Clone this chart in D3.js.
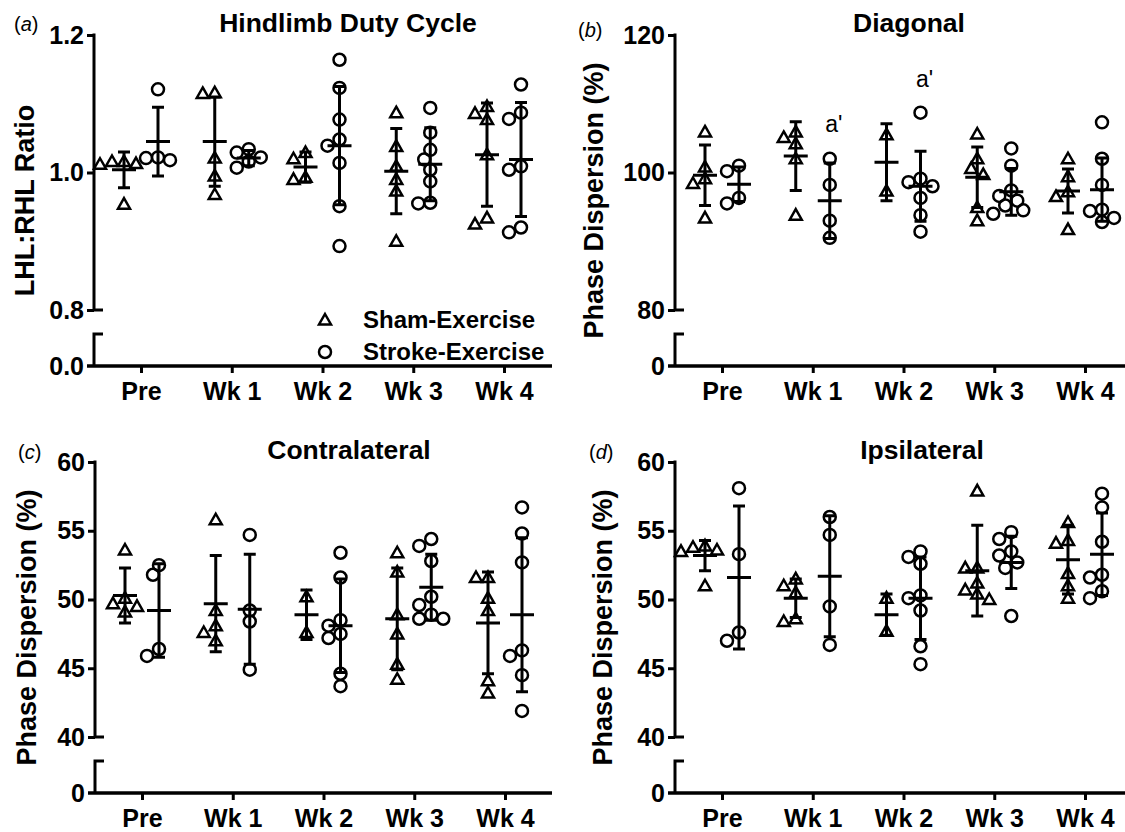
<!DOCTYPE html>
<html>
<head>
<meta charset="utf-8">
<script src="https://cdn.jsdelivr.net/npm/d3@7"></script>
<style>
  body { margin: 0; background: #fff; }
  svg text { font-family: 'Liberation Sans', Arial, sans-serif; fill: #000; }
</style>
</head>
<body>
<svg id="chart" width="1125" height="832"></svg>
<script>
'use strict';

var weeks = ['Pre', 'Wk 1', 'Wk 2', 'Wk 3', 'Wk 4'];

// (a) hindlimb duty cycle, LHL:RHL ratio
var dutySham = [
  [1.016, 1.013, 1.016, 1.012, 0.954],
  [1.115, 1.116, 1.021, 0.995, 0.968],
  [1.029, 1.020, 0.990, 0.993],
  [1.087, 1.038, 1.009, 0.990, 0.973, 0.900],
  [1.096, 1.086, 1.077, 1.026, 0.925, 0.934]
];
var dutyShamMean = [1.004, 1.045, 1.008, 1.002, 1.026];
var dutyShamSD = [0.026, 0.065, 0.022, 0.062, 0.075];
var dutyStroke = [
  [1.121, 1.021, 1.018, 1.022],
  [1.029, 1.034, 1.007, 1.016, 1.022],
  [1.164, 1.123, 1.077, 1.048, 1.039, 1.014, 0.951, 0.893],
  [1.094, 1.058, 1.033, 1.019, 1.004, 0.987, 0.955, 0.956],
  [1.128, 1.078, 1.087, 1.009, 1.004, 0.913, 0.920]
];
var dutyStrokeMean = [1.045, 1.021, 1.039, 1.012, 1.019];
var dutyStrokeSD = [0.050, 0.011, 0.086, 0.053, 0.083];

// (b) diagonal phase dispersion (%)
var diagSham = [
  [105.9, 100.8, 99.1, 98.4, 93.4],
  [104.2, 105.1, 105.9, 102.0, 93.8],
  [105.5, 97.3],
  [105.6, 102.0, 100.6, 99.7, 94.9, 93.0],
  [102.0, 99.4, 97.2, 96.5, 91.7]
];
var diagShamMean = [99.6, 102.4, 101.5, 99.3, 97.3];
var diagShamSD = [4.4, 5.0, 5.6, 4.4, 3.2];
var diagStroke = [
  [101.0, 100.2, 95.5, 96.3],
  [102.0, 98.2, 93.0, 90.5],
  [108.7, 99.1, 98.6, 98.0, 96.3, 93.8, 91.4],
  [103.5, 101.0, 97.4, 96.6, 95.9, 95.2, 94.5, 94.0],
  [107.3, 102.0, 98.2, 94.6, 94.4, 93.4, 92.8]
];
var diagStrokeMean = [98.3, 95.9, 98.0, 97.2, 97.5];
var diagStrokeSD = [2.5, 5.5, 5.1, 3.4, 4.6];
var diagNotes = [
  {week: 'Wk 1', value: 105.9, text: "a'"},
  {week: 'Wk 2', value: 112.4, text: "a'"}
];

// (c) contralateral phase dispersion (%)
var contraSham = [
  [53.6, 49.7, 49.5, 50.1, 49.1],
  [55.8, 49.2, 48.1, 47.6, 47.0],
  [50.2, 47.6],
  [53.4, 52.0, 48.9, 47.5, 45.3, 44.2],
  [51.6, 51.6, 50.1, 49.2, 44.1, 43.2]
];
var contraShamMean = [50.3, 49.7, 48.9, 48.6, 48.3];
var contraShamSD = [2.0, 3.5, 1.8, 3.7, 3.7];
var contraStroke = [
  [52.5, 51.8, 45.9, 46.4],
  [54.7, 49.2, 48.4, 44.9],
  [53.4, 51.6, 48.5, 48.1, 47.5, 47.2, 44.6, 43.7],
  [54.4, 53.9, 52.8, 50.2, 49.6, 48.9, 48.6, 48.6],
  [56.7, 54.8, 52.7, 46.3, 45.9, 44.5, 41.9]
];
var contraStrokeMean = [49.2, 49.3, 48.1, 50.9, 48.9];
var contraStrokeSD = [3.4, 4.0, 3.4, 2.4, 5.6];

// (d) ipsilateral phase dispersion (%)
var ipsiSham = [
  [53.8, 53.6, 53.9, 53.5, 51.0],
  [51.5, 51.0, 50.5, 48.4, 48.6],
  [50.1, 47.7],
  [57.9, 52.3, 52.3, 51.2, 50.7, 50.4, 50.0],
  [55.6, 54.1, 54.3, 51.9, 51.0, 50.1]
];
var ipsiShamMean = [53.2, 50.1, 48.9, 52.1, 52.9];
var ipsiShamSD = [1.1, 1.4, 1.5, 3.3, 2.5];
var ipsiStroke = [
  [58.1, 53.3, 47.0, 47.6],
  [56.0, 54.7, 49.5, 46.7],
  [53.5, 53.1, 52.6, 50.3, 50.1, 49.2, 46.6, 45.3],
  [54.9, 54.4, 53.5, 53.2, 52.7, 52.3, 48.8],
  [57.7, 56.7, 54.2, 51.8, 51.6, 50.6, 50.1]
];
var ipsiStrokeMean = [51.6, 51.7, 50.1, 52.7, 53.3];
var ipsiStrokeSD = [5.2, 4.4, 3.0, 1.9, 3.0];

var groups = ['Sham-Exercise', 'Stroke-Exercise'];

// layout
var H = 275, GAP = 24, LOW = 32;
var axisY = H + GAP + LOW;

var panels = [
  {tag: 'a', title: 'Hindlimb Duty Cycle', yLabel: 'LHL:RHL Ratio',
   domain: [0.8, 1.2], ticks: [0.8, 1.0, 1.2], fmt: '.1f', zero: '0.0',
   sham: [dutySham, dutyShamMean, dutyShamSD], stroke: [dutyStroke, dutyStrokeMean, dutyStrokeSD],
   left: 94, top: 35, width: 458, titleX: 348, tagX: 14, tagY: 31, labelX: 25, legend: true},
  {tag: 'b', title: 'Diagonal', yLabel: 'Phase Dispersion (%)',
   domain: [80, 120], ticks: [80, 100, 120], fmt: 'd', zero: '0',
   sham: [diagSham, diagShamMean, diagShamSD], stroke: [diagStroke, diagStrokeMean, diagStrokeSD],
   notes: diagNotes,
   left: 675, top: 35, width: 450, titleX: 909, tagX: 578, tagY: 37, labelX: 594},
  {tag: 'c', title: 'Contralateral', yLabel: 'Phase Dispersion (%)',
   domain: [40, 60], ticks: [40, 45, 50, 55, 60], fmt: 'd', zero: '0',
   sham: [contraSham, contraShamMean, contraShamSD], stroke: [contraStroke, contraStrokeMean, contraStrokeSD],
   left: 95, top: 462, width: 457, titleX: 349, tagX: 18, tagY: 459, labelX: 27},
  {tag: 'd', title: 'Ipsilateral', yLabel: 'Phase Dispersion (%)',
   domain: [40, 60], ticks: [40, 45, 50, 55, 60], fmt: 'd', zero: '0',
   sham: [ipsiSham, ipsiShamMean, ipsiShamSD], stroke: [ipsiStroke, ipsiStrokeMean, ipsiStrokeSD],
   left: 675, top: 462, width: 450, titleX: 922, tagX: 589, tagY: 459, labelX: 603}
];

var LW = 3;
var MW = 2.5;
var triangle = 'M0,-6L6,4.5L-6,4.5Z';

var svg = d3.select('#chart');

// spread points sideways when they would sit on top of each other
function spread(values, y, cx) {
  var placed = [];
  var out = new Array(values.length);
  var order = d3.range(values.length).sort(function(i, j) { return values[j] - values[i]; });
  order.forEach(function(i) {
    var py = y(values[i]);
    var dx = 0;
    for (var k = 0; k < 30; k++) {
      dx = (k % 2 ? -1 : 1) * Math.ceil(k / 2) * 6;
      var free = placed.every(function(p) {
        return Math.hypot(p.x - dx, p.y - py) >= 11;
      });
      if (free) break;
    }
    placed.push({x: dx, y: py});
    out[i] = {x: cx + dx, y: py};
  });
  return out;
}

function marker(sel, shape) {
  if (shape === 0) {
    return sel.append('path').attr('d', triangle);
  }
  return sel.append('circle').attr('r', 6);
}

panels.forEach(function(p) {
  var g = svg.append('g')
    .attr('transform', 'translate(' + p.left + ',' + p.top + ')');

  var y = d3.scaleLinear().domain(p.domain).range([H, 0]);
  var x = d3.scalePoint().domain(weeks).range([47, 410]);
  var offset = [-17, 17];

  // y axis, upper segment
  var ya = g.append('g')
    .call(d3.axisLeft(y).tickValues(p.ticks).tickFormat(d3.format(p.fmt))
      .tickSize(7).tickPadding(3));
  ya.select('.domain').remove();
  ya.selectAll('line').attr('stroke', '#000').attr('stroke-width', LW);
  ya.selectAll('text').style('font-size', '25px').style('font-weight', 'bold');

  g.append('path')
    .attr('d', 'M0,' + (-LW / 2) + 'V' + H + 'H9')
    .attr('fill', 'none').attr('stroke', '#000').attr('stroke-width', LW);
  // lower segment below the break
  g.append('path')
    .attr('d', 'M9,' + (H + GAP) + 'H0V' + axisY)
    .attr('fill', 'none').attr('stroke', '#000').attr('stroke-width', LW);
  g.append('text')
    .attr('x', -10).attr('y', axisY).attr('dy', '0.35em')
    .attr('text-anchor', 'end')
    .style('font-size', '25px').style('font-weight', 'bold')
    .text(p.zero);

  // x axis
  g.append('line')
    .attr('x1', -7).attr('x2', p.width)
    .attr('y1', axisY).attr('y2', axisY)
    .attr('stroke', '#000').attr('stroke-width', LW + 0.3);
  var xa = g.append('g')
    .attr('transform', 'translate(0,' + axisY + ')')
    .call(d3.axisBottom(x).tickSize(7).tickPadding(9));
  xa.select('.domain').remove();
  xa.selectAll('line').attr('stroke', '#000').attr('stroke-width', LW);
  xa.selectAll('text').style('font-size', '25px').style('font-weight', 'bold');

  // titles and labels
  g.append('text')
    .attr('x', p.titleX - p.left).attr('y', -3)
    .attr('text-anchor', 'middle')
    .style('font-size', '26.5px').style('font-weight', 'bold')
    .text(p.title);

  svg.append('text')
    .attr('x', p.tagX).attr('y', p.tagY)
    .style('font-size', '20px')
    .html('(<tspan font-style="italic">' + p.tag + '</tspan>)');

  svg.append('text')
    .attr('transform', 'translate(' + p.labelX + ',' + (p.top + axisY / 2) + ') rotate(-90)')
    .attr('dy', '0.35em')
    .attr('text-anchor', 'middle')
    .style('font-size', '27px').style('font-weight', 'bold')
    .text(p.yLabel);

  // points, then mean and SD bars on top
  [p.sham, p.stroke].forEach(function(series, s) {
    var pts = series[0], means = series[1], sds = series[2];
    var dots = g.append('g')
      .attr('fill', 'none').attr('stroke', '#000').attr('stroke-width', MW);

    weeks.forEach(function(w, i) {
      var cx = x(w) + offset[s];
      spread(pts[i], y, cx).forEach(function(pt) {
        marker(dots, s).attr('transform', 'translate(' + pt.x + ',' + pt.y + ')');
      });

      var m = y(means[i]), hi = y(means[i] + sds[i]), lo = y(means[i] - sds[i]);
      g.append('path')
        .attr('fill', 'none').attr('stroke', '#000').attr('stroke-width', LW)
        .attr('d',
          'M' + cx + ',' + hi + 'V' + lo +
          'M' + (cx - 6) + ',' + hi + 'H' + (cx + 6) +
          'M' + (cx - 6) + ',' + lo + 'H' + (cx + 6) +
          'M' + (cx - 12) + ',' + m + 'H' + (cx + 12));
    });
  });

  (p.notes || []).forEach(function(n) {
    g.append('text')
      .attr('x', x(n.week) + offset[1] + 4).attr('y', y(n.value))
      .attr('text-anchor', 'middle')
      .style('font-size', '23px')
      .text(n.text);
  });

  if (p.legend) {
    var lg = g.append('g').attr('transform', 'translate(231,285)');
    groups.forEach(function(name, s) {
      var row = lg.append('g').attr('transform', 'translate(0,' + (s * 32) + ')');
      marker(row, s).attr('fill', 'none').attr('stroke', '#000').attr('stroke-width', MW);
      row.append('text')
        .attr('x', 38).attr('dy', '0.35em')
        .style('font-size', '24px').style('font-weight', 'bold')
        .text(name);
    });
  }
});
</script>
</body>
</html>
